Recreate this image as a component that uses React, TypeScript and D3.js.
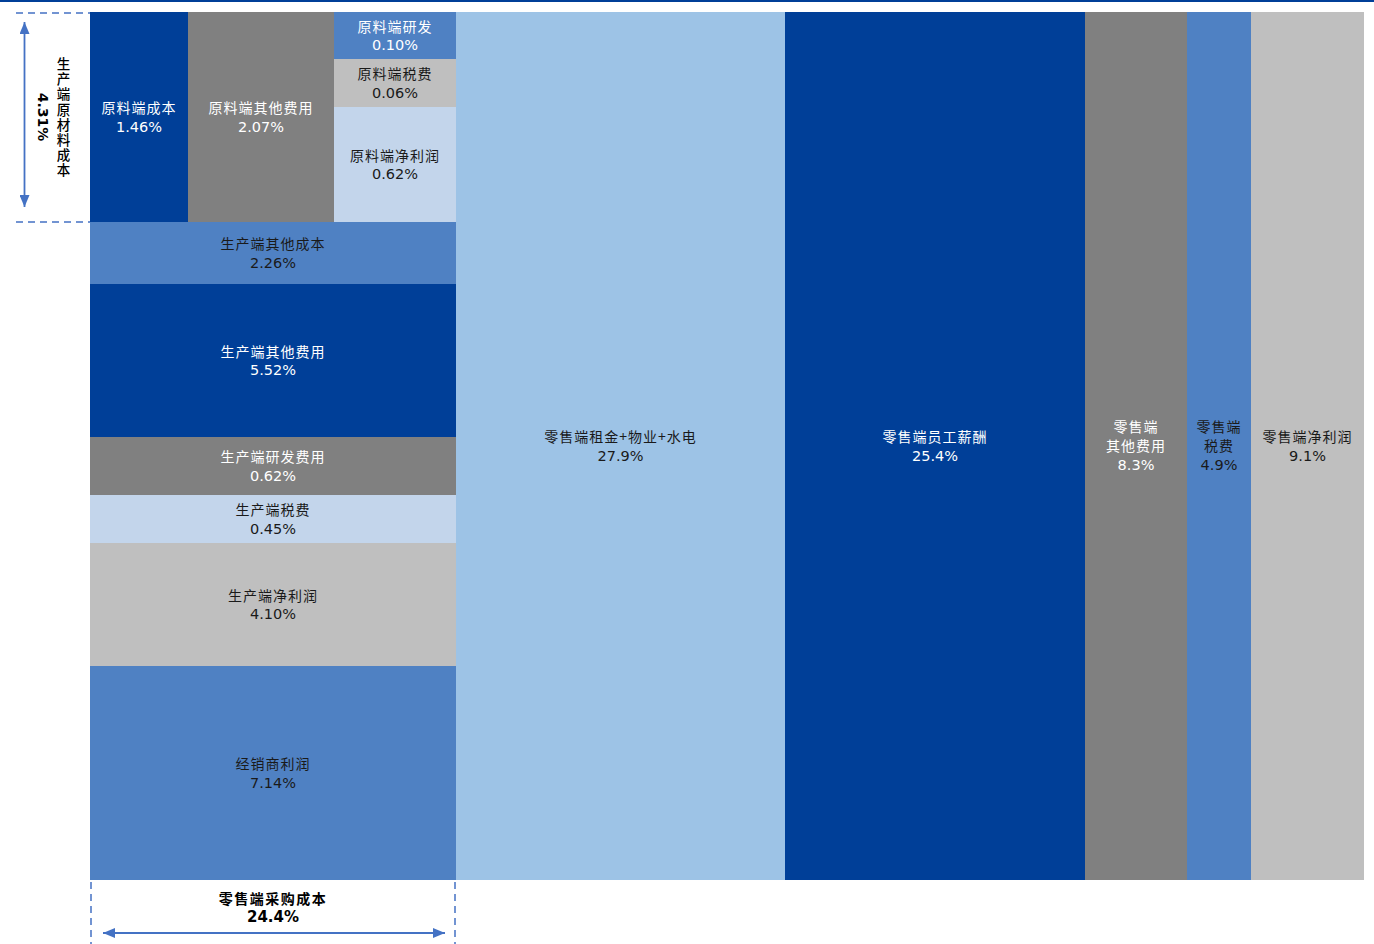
import React from "react";
import * as d3 from "d3";

// ---------- data ----------
const retailCategories = ["零售端采购成本", "零售端租金+物业+水电", "零售端员工薪酬", "零售端其他费用", "零售端税费", "零售端净利润"];
const retailLabelLines = [["零售端采购成本"], ["零售端租金+物业+水电"], ["零售端员工薪酬"], ["零售端", "其他费用"], ["零售端", "税费"], ["零售端净利润"]];
const retailValues = [24.4, 27.9, 25.4, 8.3, 4.9, 9.1];

const producerCategories = ["生产端原材料成本", "生产端其他成本", "生产端其他费用", "生产端研发费用", "生产端税费", "生产端净利润", "经销商利润"];
const producerValues = [4.31, 2.26, 5.52, 0.62, 0.45, 4.1, 7.14];

const rawCategories = ["原料端成本", "原料端其他费用", "原料端研发", "原料端税费", "原料端净利润"];
const rawValues = [1.46, 2.07, 0.1, 0.06, 0.62];

// ---------- layout (relative display weights; the source chart is not drawn to scale) ----------
const retailWidthWeights = [366, 329, 300, 102, 64, 113];
const producerHeightWeights = [210, 62, 153, 58, 48, 123, 214];
const rawWidthWeights = [98, 146, 122];
const rawSubHeightWeights = [47, 48, 115];

// ---------- styles ----------
const DARK = "#003f98";
const GRAY = "#808080";
const MID = "#4f81c3";
const LGRAY = "#bfbfbf";
const PALE = "#c3d5eb";
const LBLUE = "#9dc3e6";
const ACCENT = "#4472c4";
const WHITE = "#ffffff";
const INK = "#1a1a1a";

const retailFills = [MID, LBLUE, DARK, GRAY, MID, LGRAY];
const retailText = [INK, INK, WHITE, WHITE, INK, INK];
const producerFills = [MID, MID, DARK, GRAY, PALE, LGRAY, MID];
const producerText = [INK, INK, WHITE, WHITE, INK, INK, INK];
const rawFills = [DARK, GRAY, MID, LGRAY, PALE];
const rawText = [WHITE, WHITE, WHITE, INK, INK];

const W = 1374;
const H = 944;
const M = { left: 90, right: 1364, top: 12, bottom: 880 };

const CJK = "'Noto Sans CJK SC', 'Noto Sans', sans-serif";
const NUM = "'DejaVu Sans', Verdana, sans-serif";

const fmt2 = d3.format(".2f");
const fmt1 = d3.format(".1f");

function bounds(weights: number[], r0: number, r1: number) {
  const s = d3.scaleLinear().domain([0, d3.sum(weights)]).range([r0, r1]);
  const cum = [0, ...Array.from(d3.cumsum(weights))];
  return weights.map((_, i) => [s(cum[i]), s(cum[i + 1])] as [number, number]);
}

function Label({ cx, cy, lines, num, color }: { cx: number; cy: number; lines: string[]; num: string; color: string }) {
  const all = [...lines, num];
  const step = 19.5;
  const n = all.length;
  return (
    <g>
      {all.map((t, i) => {
        const isNum = i === n - 1;
        return (
          <text
            key={i}
            x={cx}
            y={cy + (i - (n - 1) / 2) * step - (n > 2 ? 1 : 0)}
            textAnchor="middle"
            dominantBaseline="central"
            fill={color}
            style={{
              fontFamily: isNum ? NUM : CJK,
              fontSize: isNum ? 14.5 : 14,
              letterSpacing: isNum ? 0 : 1,
            }}
          >
            {t}
          </text>
        );
      })}
    </g>
  );
}

export default function App() {
  const cols = bounds(retailWidthWeights, M.left, M.right);
  const rows = bounds(producerHeightWeights, M.top, M.bottom);
  const [c0x0, c0x1] = cols[0];
  const [r0y0, r0y1] = rows[0];
  const rawCols = bounds(rawWidthWeights, c0x0, c0x1);
  const rawSub = bounds(rawSubHeightWeights, r0y0, r0y1);

  // raw cells: first two are full-height columns, last three stacked in third column
  const rawCells = rawCategories.map((name, i) => {
    if (i < 2) return { name, i, x0: rawCols[i][0], x1: rawCols[i][1], y0: r0y0, y1: r0y1 };
    const k = i - 2;
    return { name, i, x0: rawCols[2][0], x1: rawCols[2][1], y0: rawSub[k][0], y1: rawSub[k][1] };
  });

  const vMid = (r0y0 + r0y1) / 2;

  return (
    <svg width={W} height={H} style={{ position: "absolute", left: 0, top: 0, background: "#fff" }}>
      <defs>
        <marker id="ah" viewBox="0 0 12 10" refX="12" refY="5" markerWidth="12" markerHeight="10" markerUnits="userSpaceOnUse" orient="auto-start-reverse">
          <path d="M0,0 L12,5 L0,10 z" fill={ACCENT} />
        </marker>
      </defs>

      {/* top rule */}
      <rect x={0} y={0} width={W} height={2} fill={DARK} />

      {/* retail columns (1..5) */}
      {retailCategories.map((name, i) =>
        i === 0 ? null : (
          <g key={name}>
            <rect x={cols[i][0]} y={M.top} width={cols[i][1] - cols[i][0]} height={M.bottom - M.top} fill={retailFills[i]} />
            <Label
              cx={(cols[i][0] + cols[i][1]) / 2}
              cy={(M.top + M.bottom) / 2}
              lines={retailLabelLines[i]}
              num={fmt1(retailValues[i]) + "%"}
              color={retailText[i]}
            />
          </g>
        )
      )}

      {/* producer rows inside first column (row 0 is split into raw cells) */}
      {producerCategories.map((name, i) =>
        i === 0 ? null : (
          <g key={name}>
            <rect x={c0x0} y={rows[i][0]} width={c0x1 - c0x0} height={rows[i][1] - rows[i][0]} fill={producerFills[i]} />
            <Label
              cx={(c0x0 + c0x1) / 2}
              cy={(rows[i][0] + rows[i][1]) / 2}
              lines={[name]}
              num={fmt2(producerValues[i]) + "%"}
              color={producerText[i]}
            />
          </g>
        )
      )}

      {/* raw material cells */}
      {rawCells.map((c) => (
        <g key={c.name}>
          <rect x={c.x0} y={c.y0} width={c.x1 - c.x0} height={c.y1 - c.y0} fill={rawFills[c.i]} />
          <Label cx={(c.x0 + c.x1) / 2} cy={(c.y0 + c.y1) / 2} lines={[c.name]} num={fmt2(rawValues[c.i]) + "%"} color={rawText[c.i]} />
        </g>
      ))}

      {/* left annotation */}
      <line x1={16} x2={c0x0} y1={r0y0 + 1} y2={r0y0 + 1} stroke={ACCENT} strokeWidth={1.5} strokeDasharray="7,5" />
      <line x1={16} x2={c0x0} y1={r0y1} y2={r0y1} stroke={ACCENT} strokeWidth={1.5} strokeDasharray="7,5" />
      <line x1={24.5} x2={24.5} y1={r0y0 + 10} y2={r0y1 - 15} stroke={ACCENT} strokeWidth={1.8} markerStart="url(#ah)" markerEnd="url(#ah)" />
      <text
        x={63.5}
        y={vMid + 1}
        textAnchor="middle"
        fill="#000"
        style={{ fontFamily: CJK, fontSize: 13.5, fontWeight: 500, writingMode: "vertical-rl", letterSpacing: 1.7 } as any}
      >
        {producerCategories[0]}
      </text>
      <text
        transform={`translate(43,${vMid}) rotate(90)`}
        textAnchor="middle"
        dominantBaseline="central"
        fill="#000"
        style={{ fontFamily: NUM, fontSize: 14, fontWeight: 700 }}
      >
        {fmt2(producerValues[0]) + "%"}
      </text>

      {/* bottom annotation */}
      <line x1={c0x0 + 1} x2={c0x0 + 1} y1={M.bottom + 2} y2={H} stroke={ACCENT} strokeWidth={1.5} strokeDasharray="7,5" />
      <line x1={c0x1 - 1} x2={c0x1 - 1} y1={M.bottom + 2} y2={H} stroke={ACCENT} strokeWidth={1.5} strokeDasharray="7,5" />
      <text x={(c0x0 + c0x1) / 2} y={898} textAnchor="middle" dominantBaseline="central" fill="#000" style={{ fontFamily: CJK, fontSize: 14, fontWeight: 700, letterSpacing: 1.5 }}>
        {retailCategories[0]}
      </text>
      <text x={(c0x0 + c0x1) / 2} y={917} textAnchor="middle" dominantBaseline="central" fill="#000" style={{ fontFamily: NUM, fontSize: 15, fontWeight: 700 }}>
        {fmt1(retailValues[0]) + "%"}
      </text>
      <line x1={c0x0 + 13} x2={c0x1 - 11} y1={933} y2={933} stroke={ACCENT} strokeWidth={1.8} markerStart="url(#ah)" markerEnd="url(#ah)" />
    </svg>
  );
}
